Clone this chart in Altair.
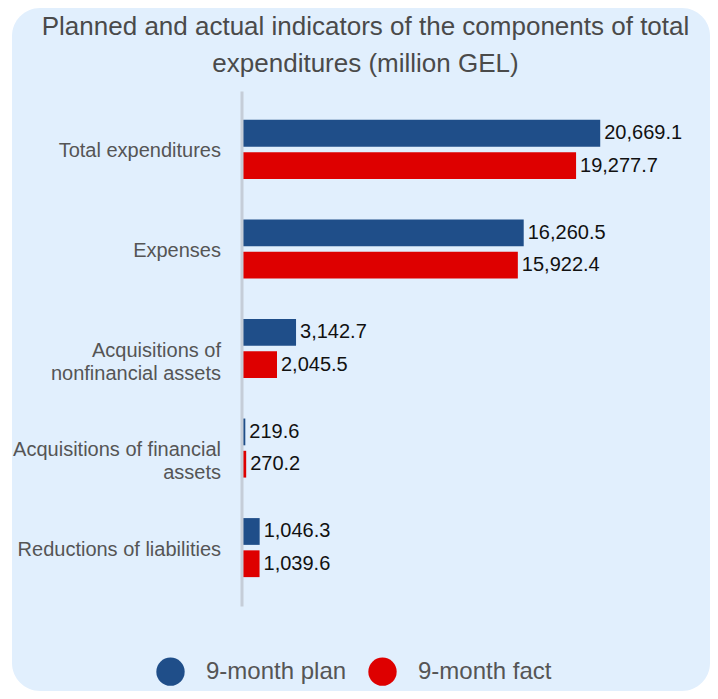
import altair as alt
import pandas as pd

categories = [
    "Total expenditures",
    "Expenses",
    "Acquisitions of nonfinancial assets",
    "Acquisitions of financial assets",
    "Reductions of liabilities",
]
series = ["9-month plan", "9-month fact"]
plan_values = [20669.1, 16260.5, 3142.7, 219.6, 1046.3]
fact_values = [19277.7, 15922.4, 2045.5, 270.2, 1039.6]
series_colors = ["#1F4E89", "#DE0000"]
title_lines = [
    "Planned and actual indicators of the components of total",
    "expenditures (million GEL)",
]

rows = []
for c, p, f in zip(categories, plan_values, fact_values):
    rows.append({"category": c, "series": series[0], "value": p})
    rows.append({"category": c, "series": series[1], "value": f})
df = pd.DataFrame(rows)

FONT = "Liberation Sans"
W, H = 420, 515

label_expr = (
    "datum.label == 'Acquisitions of nonfinancial assets' ? ['Acquisitions of', 'nonfinancial assets'] : "
    "datum.label == 'Acquisitions of financial assets' ? ['Acquisitions of financial', 'assets'] : datum.label"
)

y_enc = alt.Y(
    "category:N",
    sort=categories,
    scale=alt.Scale(paddingInner=0.407, paddingOuter=0.29),
    axis=alt.Axis(
        title=None,
        domainColor="#C5CDD8",
        domainWidth=3,
        ticks=False,
        grid=False,
        labelPadding=21,
        labelOffset=2,
        labelFont=FONT,
        labelFontSize=20,
        labelColor="#555555",
        labelLineHeight=23,
        labelLimit=300,
        labelExpr=label_expr,
        zindex=1,
    ),
)
yoff = alt.YOffset("series:N", sort=series, scale=alt.Scale(paddingInner=0.17, paddingOuter=0))
x_enc = alt.X("value:Q", scale=alt.Scale(domain=[0, 24200], nice=False, zero=True), axis=None)

bg = (
    alt.Chart(alt.Data(values=[{"bg": 1}]))
    .mark_rect(color="#E1EFFD", cornerRadius=28)
    .encode(
        x=alt.value(-229.5),
        x2=alt.value(468.5),
        y=alt.value(-83),
        y2=alt.value(600),
    )
)

base = alt.Chart(df)

bars = base.mark_bar().encode(
    x=x_enc,
    y=y_enc,
    yOffset=yoff,
    color=alt.Color(
        "series:N",
        sort=series,
        scale=alt.Scale(domain=series, range=series_colors),
        legend=alt.Legend(
            title=None,
            orient="none",
            direction="horizontal",
            legendX=-85.5,
            legendY=566,
            symbolType="circle",
            symbolSize=804,
            symbolStrokeWidth=0,
            symbolOpacity=1,
            labelFont=FONT,
            labelFontSize=24,
            labelColor="#555555",
            labelOffset=21,
            columnPadding=21,
            padding=0,
        ),
    ),
)

labels = base.mark_text(
    align="left", baseline="middle", dx=4, font=FONT, fontSize=20, color="#111111"
).encode(
    x=x_enc,
    y=y_enc,
    yOffset=yoff,
    text=alt.Text("value:Q", format=",.1f"),
)

chart = (
    alt.layer(bg, bars, labels)
    .properties(
        width=W,
        height=H,
        autosize=alt.AutoSizeParams(type="none"),
        padding={"left": 233.5, "top": 83, "right": 48.5, "bottom": 85},
        background="white",
        title=alt.TitleParams(
            text=title_lines,
            font=FONT,
            fontSize=26,
            fontWeight="normal",
            color="#4A4A4A",
            lineHeight=37.5,
            anchor="middle",
            dx=-86,
            dy=69,
            offset=0,
        ),
    )
    .configure_view(stroke=None)
)

chart.save("out.html", embed_options={"renderer": "svg", "actions": False})
